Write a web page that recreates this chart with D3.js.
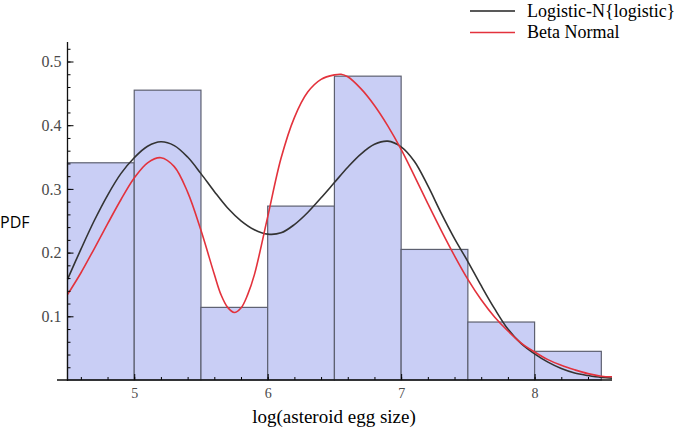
<!DOCTYPE html>
<html>
<head>
<meta charset="utf-8">
<script src="https://cdn.jsdelivr.net/npm/d3@7"></script>
<style>
  body { margin: 0; background: #fff; }
  svg { display: block; }
  .tick text { font-family: "Liberation Serif", "DejaVu Serif", serif; fill: #4a4a4a; }
  .yaxis .tick text { font-size: 16px; }
  .xaxis .tick text { font-size: 14px; }
</style>
</head>
<body>
<div id="chart"></div>
<script>
'use strict';

/**** DATA ****/
// histogram bins (left edge, width 0.5) and densities
var binStarts = [4.5, 5.0, 5.5, 6.0, 6.5, 7.0, 7.5, 8.0];
var binDensity = [0.341, 0.455, 0.114, 0.273, 0.477, 0.205, 0.091, 0.045];

// Logistic-N{logistic} fitted curve
var logisticX = [4.5, 4.6, 4.7, 4.8, 4.9, 5.0, 5.1, 5.2, 5.3, 5.4, 5.5, 5.6, 5.7, 5.8, 5.9, 6.0, 6.1, 6.2, 6.3, 6.4, 6.5, 6.6, 6.7, 6.8, 6.9, 7.0, 7.1, 7.2, 7.3, 7.4, 7.5, 7.6, 7.7, 7.8, 7.9, 8.0, 8.1, 8.2, 8.3, 8.4, 8.5, 8.58];
var logisticY = [0.158, 0.205, 0.250, 0.290, 0.324, 0.349, 0.367, 0.374, 0.368, 0.350, 0.324, 0.296, 0.270, 0.250, 0.236, 0.229, 0.231, 0.244, 0.263, 0.286, 0.310, 0.334, 0.355, 0.370, 0.375, 0.366, 0.343, 0.305, 0.262, 0.222, 0.186, 0.148, 0.112, 0.080, 0.057, 0.041, 0.028, 0.018, 0.011, 0.007, 0.004, 0.003];

// Beta Normal fitted curve
var betaX = [4.5, 4.6, 4.7, 4.8, 4.9, 5.0, 5.1, 5.2, 5.3, 5.4, 5.5, 5.6, 5.65, 5.7, 5.75, 5.8, 5.85, 5.9, 6.0, 6.1, 6.2, 6.3, 6.4, 6.5, 6.55, 6.6, 6.7, 6.8, 6.9, 7.0, 7.1, 7.2, 7.3, 7.4, 7.5, 7.6, 7.7, 7.8, 7.9, 8.0, 8.1, 8.2, 8.3, 8.4, 8.5, 8.58];
var betaY = [0.134, 0.168, 0.206, 0.245, 0.283, 0.317, 0.341, 0.349, 0.335, 0.295, 0.235, 0.166, 0.134, 0.114, 0.106, 0.113, 0.134, 0.165, 0.256, 0.348, 0.412, 0.452, 0.472, 0.479, 0.480, 0.476, 0.457, 0.431, 0.399, 0.362, 0.320, 0.277, 0.235, 0.195, 0.158, 0.126, 0.099, 0.077, 0.058, 0.044, 0.032, 0.023, 0.016, 0.010, 0.006, 0.005];

var yTicks = [0.1, 0.2, 0.3, 0.4, 0.5];
var xTicks = [5, 6, 7, 8];

/**** SETUP ****/
var width = 685, height = 429;
var svg = d3.select('#chart').append('svg')
  .attr('width', width)
  .attr('height', height);

var x = d3.scaleLinear().domain([4.5, 8.58]).range([67.5, 612]);
var y = d3.scaleLinear().domain([0, 0.53]).range([380, 42.4]);

// bars
svg.append('g').selectAll('rect')
  .data(binStarts)
  .enter().append('rect')
  .attr('x', function(d) { return x(d); })
  .attr('y', function(d, i) { return y(binDensity[i]); })
  .attr('width', function(d) { return x(d + 0.5) - x(d); })
  .attr('height', function(d, i) { return y(0) - y(binDensity[i]); })
  .attr('fill', '#c9cef5')
  .attr('stroke', '#5d6070')
  .attr('stroke-width', 1.2);

// curves
var line = d3.line()
  .x(function(d) { return x(d[0]); })
  .y(function(d) { return y(d[1]); })
  .curve(d3.curveCatmullRom.alpha(0.5));

svg.append('path')
  .datum(d3.zip(logisticX, logisticY))
  .attr('d', line)
  .attr('fill', 'none')
  .attr('stroke', '#333')
  .attr('stroke-width', 1.6);

svg.append('path')
  .datum(d3.zip(betaX, betaY))
  .attr('d', line)
  .attr('fill', 'none')
  .attr('stroke', '#e3323c')
  .attr('stroke-width', 1.6);

/**** AXES ****/
// minor ticks
svg.append('g')
  .attr('transform', 'translate(67.5,0)')
  .call(d3.axisLeft(y).tickValues(d3.range(0.02, 0.53, 0.02)).tickSize(-3).tickFormat(''))
  .call(function(g) { g.select('.domain').remove(); });
svg.append('g')
  .attr('transform', 'translate(0,380)')
  .call(d3.axisBottom(x).tickValues(d3.range(4.6, 8.58, 0.2)).tickSize(-3).tickFormat(''))
  .call(function(g) { g.select('.domain').remove(); });

// major ticks
svg.append('g')
  .attr('class', 'yaxis')
  .attr('transform', 'translate(67.5,0)')
  .call(d3.axisLeft(y).tickValues(yTicks).tickSize(-6).tickPadding(6).tickFormat(d3.format('.1f')))
  .call(function(g) { g.select('.domain').remove(); });
svg.append('g')
  .attr('class', 'xaxis')
  .attr('transform', 'translate(0,380)')
  .call(d3.axisBottom(x).tickValues(xTicks).tickSize(-6).tickPadding(8).tickFormat(d3.format('d')))
  .call(function(g) { g.select('.domain').remove(); });

// axis lines
svg.append('line')
  .attr('x1', 67.5).attr('x2', 67.5)
  .attr('y1', 42).attr('y2', 381)
  .attr('stroke', '#111').attr('stroke-width', 1.3);
svg.append('line')
  .attr('x1', 57).attr('x2', 612)
  .attr('y1', 380).attr('y2', 380)
  .attr('stroke', '#111').attr('stroke-width', 1.3);

// axis titles
svg.append('text')
  .attr('x', 334).attr('y', 423)
  .attr('text-anchor', 'middle')
  .style('font-family', '"Liberation Serif", serif')
  .style('font-size', '19px')
  .text('log(asteroid egg size)');

svg.append('text')
  .attr('x', 0).attr('y', 228)
  .style('font-family', '"Open Sans", sans-serif')
  .style('font-size', '16px')
  .text('PDF');

/**** LEGEND ****/
var legend = [
  { label: 'Logistic-N{logistic}', color: '#222', y: 11 },
  { label: 'Beta Normal', color: '#e3323c', y: 32.5 }
];
var lg = svg.append('g').selectAll('g')
  .data(legend)
  .enter().append('g');
lg.append('line')
  .attr('x1', 470).attr('x2', 515)
  .attr('y1', function(d) { return d.y; })
  .attr('y2', function(d) { return d.y; })
  .attr('stroke', function(d) { return d.color; })
  .attr('stroke-width', 1.6);
lg.append('text')
  .attr('x', 527)
  .attr('y', function(d) { return d.y + 5.5; })
  .style('font-family', '"Liberation Serif", serif')
  .style('font-size', '18px')
  .text(function(d) { return d.label; });
</script>
</body>
</html>
